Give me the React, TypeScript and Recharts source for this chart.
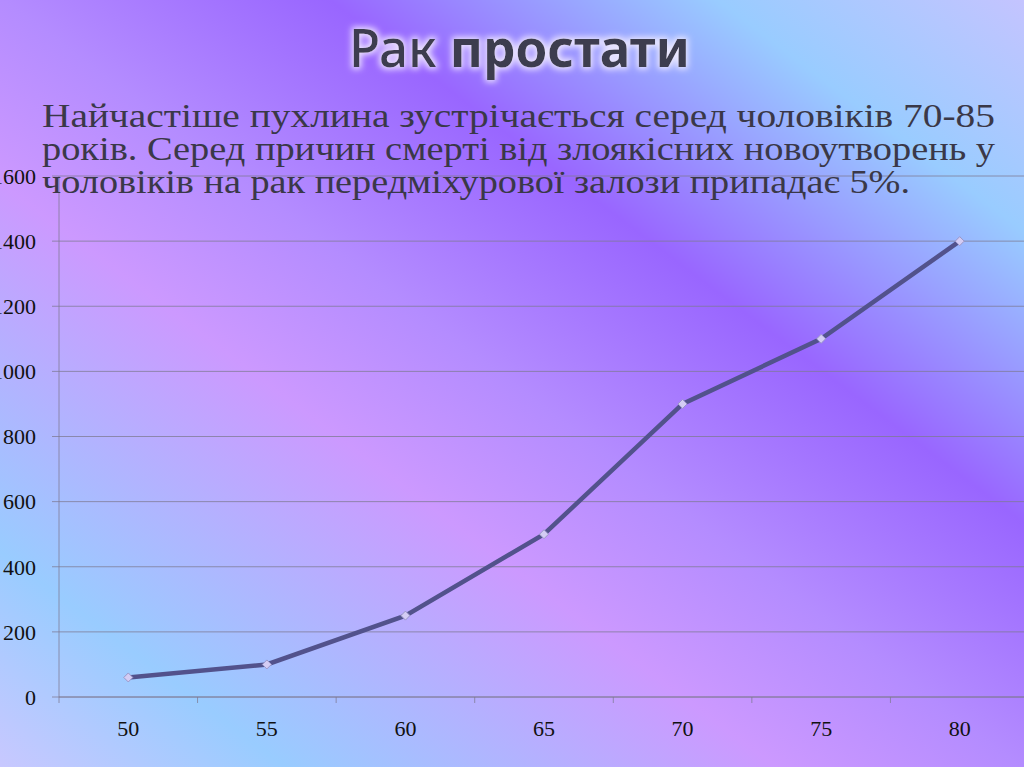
import React from 'react';
import { LineChart, Line, XAxis, YAxis, CartesianGrid } from 'recharts';

const years = [50, 55, 60, 65, 70, 75, 80];
const cases = [60, 100, 250, 500, 900, 1100, 1400];
const yTicks = [0, 200, 400, 600, 800, 1000, 1200, 1400, 1600];
const xBoundaries = [47.5, 52.5, 57.5, 62.5, 67.5, 72.5, 77.5, 82.5];

const titleRegular = 'Рак ';
const titleBold = 'простати';
const bodyLines = [
  'Найчастіше пухлина зустрічається серед чоловіків 70-85',
  'років. Серед причин смерті від злоякісних новоутворень у',
  'чоловіків на рак передміхурової залози припадає 5%.',
];

const data = years.map((year, i) => ({ year, value: cases[i] }));
const xTicks = [...xBoundaries, ...years].sort((a, b) => a - b);

const GRID = '#7d7a92';
const GRID_OPACITY = 0.75;
const TICK_SIZE = 6;
const X_TICK_MARGIN = 17;

const XTick = (props: any) => {
  const { x, y, payload } = props;
  const v = payload.value;
  if (!Number.isInteger(v)) {
    const axisY = y - X_TICK_MARGIN - TICK_SIZE;
    return (
      <line x1={x} x2={x} y1={axisY} y2={axisY + TICK_SIZE} stroke={GRID} strokeOpacity={GRID_OPACITY} strokeWidth={1} />
    );
  }
  return (
    <text x={x} y={y} dy="0.71em" textAnchor="middle" fill="#111" fontFamily="'Liberation Serif', serif" fontSize={22}>
      {v}
    </text>
  );
};

const Diamond = (props: any) => {
  const { cx, cy } = props;
  if (cx == null || cy == null) return null;
  const s = 4.5;
  return (
    <polygon
      points={`${cx},${cy - s} ${cx + s},${cy} ${cx},${cy + s} ${cx - s},${cy}`}
      fill="#d4ccf4"
      stroke="#9a96c8"
      strokeWidth={1}
    />
  );
};

export default function App() {
  return (
    <div
      style={{
        position: 'fixed',
        left: 0,
        top: 0,
        width: 1024,
        height: 767,
        overflow: 'hidden',
        background:
          'linear-gradient(217deg, #c4c4ff 0%, #99ccff 15%, #9966ff 34%, #b48cff 50%, #cc99ff 62%, #99ccff 86%, #c8c8ff 100%)',
      }}
    >
      <div style={{ position: 'absolute', left: -40, top: 0 }}>
        <LineChart width={1080} height={767} data={data} margin={{ top: 176, right: 11, bottom: 0, left: 0 }}>
          <CartesianGrid horizontal vertical={false} stroke={GRID} strokeOpacity={GRID_OPACITY} strokeWidth={1} />
          <XAxis
            dataKey="year"
            type="number"
            domain={[47.5, 82.5]}
            ticks={xTicks}
            interval={0}
            tickLine={false}
            tickSize={TICK_SIZE}
            tickMargin={X_TICK_MARGIN}
            tick={<XTick />}
            stroke={GRID}
            strokeOpacity={GRID_OPACITY}
            height={70}
            allowDataOverflow
          />
          <YAxis
            domain={[0, 1600]}
            ticks={yTicks}
            interval={0}
            width={99}
            tickSize={7}
            tickMargin={16}
            stroke={GRID}
            strokeOpacity={GRID_OPACITY}
            tick={{ fill: '#111', fontFamily: "'Liberation Serif', serif", fontSize: 22 }}
          />
          <Line
            type="linear"
            dataKey="value"
            stroke="#52528c"
            strokeWidth={4.5}
            dot={<Diamond />}
            activeDot={false}
            isAnimationActive={false}
          />
        </LineChart>
      </div>
      <svg width={1024} height={767} style={{ position: 'absolute', left: 0, top: 0, pointerEvents: 'none' }}>
        <defs>
          <filter id="glow" x="-10%" y="-30%" width="120%" height="160%">
            <feMorphology in="SourceAlpha" operator="dilate" radius="2" result="d" />
            <feGaussianBlur in="d" stdDeviation="3" result="b" />
            <feFlood floodColor="#f4eeff" floodOpacity="0.9" />
            <feComposite in2="b" operator="in" result="g" />
            <feMerge>
              <feMergeNode in="g" />
              <feMergeNode in="SourceGraphic" />
            </feMerge>
          </filter>
        </defs>
        <text
          x={349}
          y={67}
          fontFamily="'Noto Sans', sans-serif"
          fontSize={52}
          fill="#3e3d50"
          textLength={341}
          lengthAdjust="spacingAndGlyphs"
          filter="url(#glow)"
        >
          <tspan fontWeight={500}>{titleRegular}</tspan>
          <tspan fontWeight="bold">{titleBold}</tspan>
        </text>
        {bodyLines.map((line, i) => (
          <text
            key={i}
            x={42}
            y={127 + i * 33}
            fontFamily="'Liberation Serif', serif"
            fontSize={33}
            fill="#3a3848"
            textLength={i < 2 ? 953 : 868}
            lengthAdjust="spacingAndGlyphs"
          >
            {line}
          </text>
        ))}
      </svg>
    </div>
  );
}
